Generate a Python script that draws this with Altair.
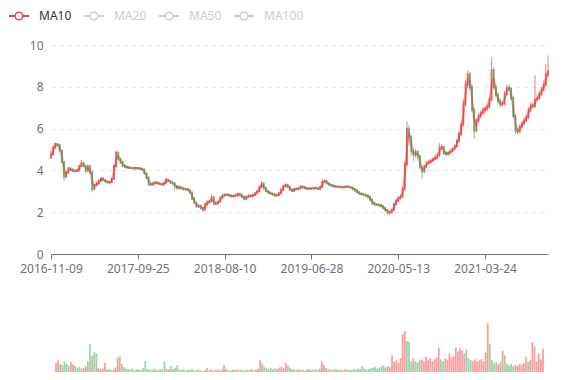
import altair as alt
import pandas as pd

closes = [
    4.75, 5.10, 5.27, 5.22, 4.95, 4.40, 3.70, 3.90, 4.10, 4.03,
    3.98, 3.97, 4.00, 4.20, 4.35, 4.22, 3.98, 4.20, 3.90, 3.10,
    3.30, 3.38, 3.50, 3.62, 3.54, 3.48, 3.42, 3.44, 3.60, 4.20,
    4.85, 4.55, 4.40, 4.22, 4.17, 4.14, 4.12, 4.11, 4.10, 4.12,
    4.10, 4.08, 4.05, 3.85, 3.65, 3.35, 3.32, 3.38, 3.42, 3.38,
    3.35, 3.32, 3.40, 3.56, 3.50, 3.42, 3.38, 3.25, 3.15, 3.20,
    3.14, 3.10, 3.11, 3.05, 2.95, 2.65, 2.45, 2.28, 2.30, 2.20,
    2.12, 2.38, 2.48, 2.52, 2.72, 2.40, 2.42, 2.50, 2.70, 2.80,
    2.84, 2.83, 2.80, 2.76, 2.78, 2.80, 2.88, 2.82, 2.74, 2.63,
    2.74, 2.80, 2.76, 2.82, 2.90, 3.00, 3.20, 3.38, 3.15, 3.02,
    2.94, 2.90, 2.85, 2.80, 2.82, 2.90, 3.08, 3.25, 3.30, 3.22,
    3.08, 3.02, 3.10, 3.12, 3.14, 3.22, 3.20, 3.15, 3.12, 3.13,
    3.14, 3.17, 3.14, 3.11, 3.20, 3.45, 3.50, 3.38, 3.32, 3.28,
    3.23, 3.23, 3.22, 3.20, 3.20, 3.21, 3.23, 3.21, 3.18, 3.11,
    3.04, 2.96, 2.89, 2.86, 2.83, 2.80, 2.74, 2.60, 2.44, 2.37,
    2.36, 2.34, 2.29, 2.20, 2.10, 1.98, 2.00, 2.10, 2.38, 2.55,
    2.68, 2.74, 3.10, 4.30, 6.00, 5.60, 4.90, 4.75, 4.88, 4.68,
    4.15, 3.95, 4.20, 4.35, 4.40, 4.47, 4.54, 4.62, 4.72, 5.10,
    5.12, 4.82, 4.78, 4.84, 4.92, 5.02, 5.15, 5.40, 5.75, 6.20,
    7.20, 8.10, 8.60, 8.00, 6.90, 5.90, 6.40, 6.60, 6.75, 6.90,
    6.95, 7.05, 7.40, 8.80, 8.00, 7.60, 7.30, 7.15, 7.20, 7.65,
    7.95, 7.90, 7.45, 6.60, 5.90, 5.85, 6.10, 6.25, 6.40, 6.55,
    6.90, 7.12, 7.06, 7.40, 7.45, 7.65, 7.86, 8.10, 8.60, 8.75,
]
first_open = 4.60

highs = [
    4.95, 5.20, 5.32, 5.30, 5.25, 4.98, 4.45, 3.98, 4.18, 4.15,
    4.10, 4.05, 4.06, 4.28, 4.50, 4.40, 4.25, 4.28, 4.24, 3.95,
    3.36, 3.45, 3.58, 3.68, 3.65, 3.58, 3.50, 3.50, 3.66, 4.30,
    4.95, 4.90, 4.62, 4.45, 4.30, 4.24, 4.20, 4.18, 4.16, 4.18,
    4.16, 4.14, 4.12, 4.08, 3.90, 3.70, 3.42, 3.45, 3.50, 3.48,
    3.44, 3.40, 3.46, 3.65, 3.60, 3.54, 3.46, 3.42, 3.30, 3.28,
    3.25, 3.20, 3.16, 3.14, 3.08, 2.98, 2.70, 2.50, 2.38, 2.36,
    2.26, 2.44, 2.56, 2.60, 2.86, 2.76, 2.48, 2.56, 2.76, 2.86,
    2.90, 2.90, 2.88, 2.84, 2.84, 2.86, 2.94, 2.92, 2.86, 2.78,
    2.80, 2.86, 2.84, 2.88, 2.96, 3.06, 3.28, 3.48, 3.42, 3.20,
    3.06, 2.98, 2.94, 2.90, 2.88, 2.96, 3.14, 3.32, 3.40, 3.36,
    3.28, 3.12, 3.15, 3.18, 3.20, 3.30, 3.28, 3.24, 3.20, 3.18,
    3.19, 3.22, 3.22, 3.18, 3.26, 3.58, 3.56, 3.54, 3.44, 3.36,
    3.32, 3.28, 3.27, 3.26, 3.25, 3.26, 3.28, 3.27, 3.25, 3.22,
    3.15, 3.08, 3.00, 2.94, 2.92, 2.88, 2.85, 2.78, 2.64, 2.50,
    2.44, 2.42, 2.40, 2.34, 2.26, 2.16, 2.06, 2.16, 2.46, 2.64,
    2.76, 2.86, 3.22, 4.45, 6.35, 6.15, 5.70, 5.05, 5.02, 4.98,
    4.75, 4.22, 4.28, 4.44, 4.50, 4.56, 4.62, 4.72, 4.84, 5.30,
    5.25, 5.18, 4.92, 4.92, 5.00, 5.10, 5.24, 5.50, 5.86, 6.35,
    7.40, 8.30, 8.80, 8.70, 8.10, 7.00, 6.50, 6.72, 6.88, 7.05,
    7.10, 7.20, 7.55, 9.40, 8.95, 8.10, 7.72, 7.40, 7.32, 7.80,
    8.10, 8.12, 8.00, 7.55, 6.70, 6.05, 6.20, 6.38, 6.52, 6.68,
    7.02, 7.25, 7.22, 8.55, 7.60, 7.80, 8.00, 8.30, 9.10, 9.50,
]

lows = [
    4.55, 4.70, 5.05, 5.15, 4.90, 4.35, 3.50, 3.62, 3.85, 3.95,
    3.92, 3.90, 3.92, 3.96, 4.15, 4.15, 3.85, 3.95, 3.85, 2.95,
    3.05, 3.24, 3.32, 3.45, 3.48, 3.42, 3.38, 3.38, 3.40, 3.55,
    4.15, 4.45, 4.30, 4.15, 4.10, 4.08, 4.06, 4.05, 4.04, 4.05,
    4.04, 4.02, 3.98, 3.80, 3.58, 3.25, 3.25, 3.28, 3.34, 3.32,
    3.30, 3.26, 3.28, 3.36, 3.44, 3.36, 3.32, 3.05, 3.10, 3.10,
    3.08, 3.04, 3.04, 2.98, 2.88, 2.58, 2.38, 2.20, 2.20, 2.12,
    2.02, 2.08, 2.32, 2.42, 2.48, 2.34, 2.36, 2.40, 2.46, 2.64,
    2.76, 2.78, 2.74, 2.70, 2.72, 2.74, 2.76, 2.76, 2.68, 2.56,
    2.58, 2.68, 2.70, 2.72, 2.78, 2.86, 2.96, 3.14, 3.08, 2.96,
    2.88, 2.84, 2.80, 2.74, 2.76, 2.78, 2.86, 3.02, 3.18, 3.16,
    3.02, 2.96, 3.00, 3.06, 3.08, 3.10, 3.14, 3.10, 3.06, 3.08,
    3.08, 3.10, 3.09, 3.06, 3.08, 3.16, 3.40, 3.32, 3.26, 3.22,
    3.18, 3.18, 3.17, 3.15, 3.15, 3.16, 3.17, 3.16, 3.12, 3.05,
    2.98, 2.90, 2.84, 2.80, 2.78, 2.74, 2.66, 2.52, 2.36, 2.30,
    2.30, 2.28, 2.22, 2.14, 2.04, 1.90, 1.86, 1.94, 2.04, 2.32,
    2.50, 2.60, 2.70, 3.05, 4.20, 5.20, 4.70, 4.45, 4.60, 4.55,
    4.05, 3.60, 3.88, 4.12, 4.28, 4.34, 4.40, 4.48, 4.56, 4.66,
    4.98, 4.74, 4.66, 4.70, 4.76, 4.86, 4.96, 5.08, 5.32, 5.66,
    6.10, 7.05, 7.95, 7.85, 6.80, 5.50, 5.80, 6.30, 6.50, 6.65,
    6.70, 6.85, 6.95, 7.30, 7.85, 7.45, 7.18, 7.00, 7.05, 7.10,
    7.55, 7.78, 7.35, 6.50, 5.75, 5.70, 5.78, 6.00, 6.15, 6.30,
    6.45, 6.80, 6.95, 7.00, 7.30, 7.38, 7.58, 7.78, 8.02, 8.45,
]

volumes = [
    18, 24, 16, 14, 22, 17, 13, 21, 15, 12,
    9, 10, 7, 8, 12, 22, 57, 33, 41, 38,
    8, 6, 7, 19, 5, 6, 4, 5, 9, 29,
    32, 17, 9, 7, 6, 5, 7, 4, 6, 5,
    4, 8, 22, 6, 5, 4, 7, 5, 3, 6,
    5, 22, 7, 5, 12, 6, 8, 14, 5, 4,
    6, 3, 5, 4, 6, 3, 4, 5, 3, 2,
    4, 8, 3, 5, 3, 4, 6, 3, 5, 15,
    6, 4, 3, 5, 4, 6, 3, 5, 4, 3,
    5, 4, 6, 3, 5, 7, 24, 17, 10, 8,
    6, 8, 5, 7, 6, 9, 11, 8, 19, 14,
    9, 6, 5, 4, 6, 4, 5, 3, 5, 6,
    4, 5, 6, 4, 7, 22, 15, 8, 6, 5,
    4, 6, 5, 4, 5, 3, 6, 4, 5, 4,
    6, 5, 7, 6, 12, 7, 5, 6, 8, 8,
    10, 7, 9, 11, 14, 9, 12, 10, 34, 21,
    24, 19, 28, 77, 84, 63, 61, 21, 28, 22,
    19, 24, 26, 22, 31, 24, 28, 22, 26, 30,
    50, 26, 22, 28, 25, 38, 30, 32, 50, 42,
    48, 44, 38, 46, 28, 24, 22, 26, 21, 24,
    26, 22, 40, 100, 57, 24, 18, 21, 16, 20,
    43, 34, 17, 14, 16, 12, 15, 13, 17, 14,
    18, 31, 21, 24, 61, 52, 21, 38, 26, 48,
]

tick_labels = ["2016-11-09", "2017-09-25", "2018-08-10",
               "2019-06-28", "2020-05-13", "2021-03-24"]
tick_step = 40

legend_names = ["MA10", "MA20", "MA50", "MA100"]
legend_active = [True, False, False, False]

UP = "#eb5454"
DOWN = "#47b262"
MA_COLOR = "#dd4444"
AXIS_COLOR = "#6e7079"
FONT = "Noto Sans"

n = len(closes)
opens = [first_open] + closes[:-1]
df = pd.DataFrame({
    "i": list(range(n)),
    "open": opens,
    "close": closes,
    "high": highs,
    "low": lows,
    "volume": volumes,
})
df["dir"] = ["up" if c >= o else "down" for o, c in zip(opens, closes)]
df["lo"] = [min(o, c) for o, c in zip(opens, closes)]
df["hi"] = [max(o, c) for o, c in zip(opens, closes)]

leg = pd.DataFrame({
    "pos": list(range(len(legend_names))),
    "name": legend_names,
    "col": [MA_COLOR if a else "#cccccc" for a in legend_active],
    "tcol": ["#333333" if a else "#cccccc" for a in legend_active],
})

xdom = alt.Scale(domain=[0, n - 1], nice=False, zero=False)
tick_vals = [k * tick_step for k in range(len(tick_labels))]
label_expr = "[" + ",".join("'" + t + "'" for t in tick_labels) + "][round(datum.value/%d)]" % tick_step
dir_scale = alt.Scale(domain=["up", "down"], range=[UP, DOWN])

wicks = alt.Chart(df).mark_rule(strokeWidth=1, opacity=0.75).encode(
    x=alt.X("i:Q", scale=xdom, axis=alt.Axis(
        values=tick_vals, labelExpr=label_expr, title=None, grid=False,
        domainColor=AXIS_COLOR, tickColor=AXIS_COLOR, tickSize=5,
        labelColor=AXIS_COLOR, labelFontSize=12, labelPadding=4,
        labelFont=FONT, labelOverlap=False, labelFlush=False)),
    y=alt.Y("low:Q", scale=alt.Scale(domain=[0, 10]), axis=alt.Axis(
        values=[0, 2, 4, 6, 8, 10], title=None, domain=False, ticks=False,
        labelPadding=8, labelColor=AXIS_COLOR, labelFontSize=12, labelFont=FONT,
        grid=True, gridDash=[4, 4], gridColor="#e0e6f1")),
    y2="high:Q",
    color=alt.Color("dir:N", scale=dir_scale, legend=None),
)

bodies = alt.Chart(df).mark_rule(strokeWidth=1.8, strokeCap="square", opacity=0.9).encode(
    x=alt.X("i:Q", scale=xdom, axis=None),
    y=alt.Y("lo:Q"),
    y2="hi:Q",
    color=alt.Color("dir:N", scale=dir_scale, legend=None),
)

ma = alt.Chart(df).transform_window(
    ma="mean(close)", frame=[-1, 0], sort=[{"field": "i"}]
).mark_line(color=MA_COLOR, strokeWidth=2.2, opacity=0.5).encode(
    x=alt.X("i:Q", scale=xdom, axis=None),
    y=alt.Y("ma:Q"),
)

LEG_Y = -29
lscale = alt.Scale(domain=[0, 4], range=[-32, 268])
lx = alt.X("pos:Q", scale=lscale, axis=None)
leg_line = alt.Chart(leg).transform_calculate(
    x1="datum.pos - 10/75", x2="datum.pos + 10/75"
).mark_rule(strokeWidth=2).encode(
    x=alt.X("x1:Q", scale=lscale, axis=None), x2="x2:Q",
    y=alt.value(LEG_Y), color=alt.Color("col:N", scale=None, legend=None),
)
leg_circle = alt.Chart(leg).mark_point(shape="circle", size=60, filled=True, strokeWidth=1.5, opacity=1).encode(
    x=lx, y=alt.value(LEG_Y), fill=alt.value("white"),
    stroke=alt.Stroke("col:N", scale=None, legend=None),
)
leg_text = alt.Chart(leg).mark_text(align="left", baseline="middle", dx=20, fontSize=12, font=FONT).encode(
    x=lx, y=alt.value(LEG_Y), text="name:N", color=alt.Color("tcol:N", scale=None, legend=None),
)

price = alt.layer(wicks, bodies, ma, leg_line, leg_circle, leg_text).resolve_scale(
    x="independent", color="independent", stroke="independent"
).properties(width=497, height=209)

volume = alt.Chart(df).mark_bar(size=1.8, opacity=0.55).encode(
    x=alt.X("i:Q", scale=xdom, axis=None),
    y=alt.Y("volume:Q", scale=alt.Scale(domain=[0, 147]), axis=None),
    color=alt.Color("dir:N", scale=dir_scale, legend=None),
).properties(width=497, height=72)

chart = alt.vconcat(price, volume, spacing=46, bounds="flush").properties(
    padding={"top": 1, "left": 0, "right": 2, "bottom": 0}
).configure(font=FONT).configure_view(stroke=None)

chart.save("out.html", embed_options={"renderer": "svg", "actions": False})
